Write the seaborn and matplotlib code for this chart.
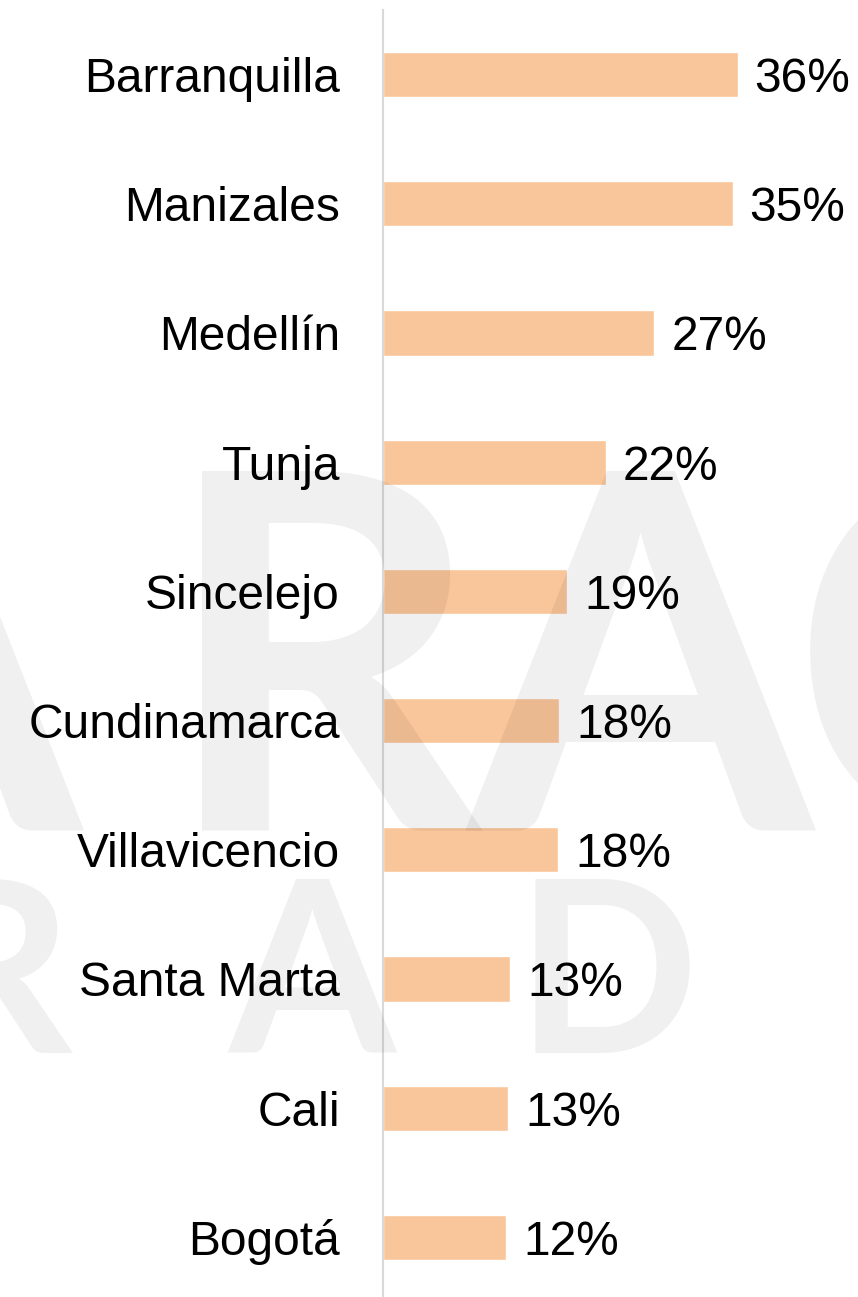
import numpy as np
import pandas as pd
import matplotlib
matplotlib.use('Agg')
import matplotlib.pyplot as plt
import seaborn as sns

# data
cities = ['Barranquilla', 'Manizales', 'Medellín', 'Tunja', 'Sincelejo',
          'Cundinamarca', 'Villavicencio', 'Santa Marta', 'Cali', 'Bogotá']
share = [36.2, 35.7, 27.7, 22.8, 18.8, 18.0, 17.9, 13.0, 12.8, 12.6]
share_labels = ['36%', '35%', '27%', '22%', '19%', '18%', '18%', '13%', '13%', '12%']

df = pd.DataFrame({'Ciudad': cities, 'Porcentaje': share})

sns.set_style('white')
plt.rcParams['font.family'] = ['Liberation Sans', 'DejaVu Sans']

W, H = 858, 1297
fig = plt.figure(figsize=(W / 100, H / 100), dpi=100)
ax = fig.add_axes([383 / W, -5 / H, 1 - 383 / W, 1292 / H])

sns.barplot(data=df, x='Porcentaje', y='Ciudad', orient='h',
            color='#F9C59A', saturation=1, width=0.35, ax=ax)

ax.set_xlim(0, 475 / 9.8)
ax.set_ylim(len(cities) - 0.5, -0.5)
ax.set_xlabel('')
ax.set_ylabel('')
ax.set_xticks([])
ax.tick_params(axis='y', length=0, pad=31, labelsize=34.5, labelcolor='black')
for lbl in ax.get_yticklabels():
    lbl.set_verticalalignment('center_baseline')

for s in ['top', 'right', 'bottom']:
    ax.spines[s].set_visible(False)
ax.spines['left'].set_color('#d9d9d9')
ax.spines['left'].set_linewidth(1.5)

# value labels at the end of each bar
for i, (v, t) in enumerate(zip(share, share_labels)):
    ax.annotate(t, xy=(v, i), xytext=(12, 0), textcoords='offset points',
                ha='left', va='center_baseline', fontsize=34.5, color='black')

# faint watermark letters laid over the chart
wm = dict(color='black', alpha=0.058, family='Lato', weight='bold',
          ha='center', va='baseline', zorder=5)
for ch, cx in [('A', -92), ('R', 322), ('A', 640), ('C', 955)]:
    fig.text(cx / W, 1 - 830 / H, ch, fontsize=358, **wm)
for ch, cx in [('R', -5), ('A', 312), ('D', 607)]:
    fig.text(cx / W, 1 - 1053 / H, ch, fontsize=173, **wm)

plt.savefig('out.png', dpi=100)
